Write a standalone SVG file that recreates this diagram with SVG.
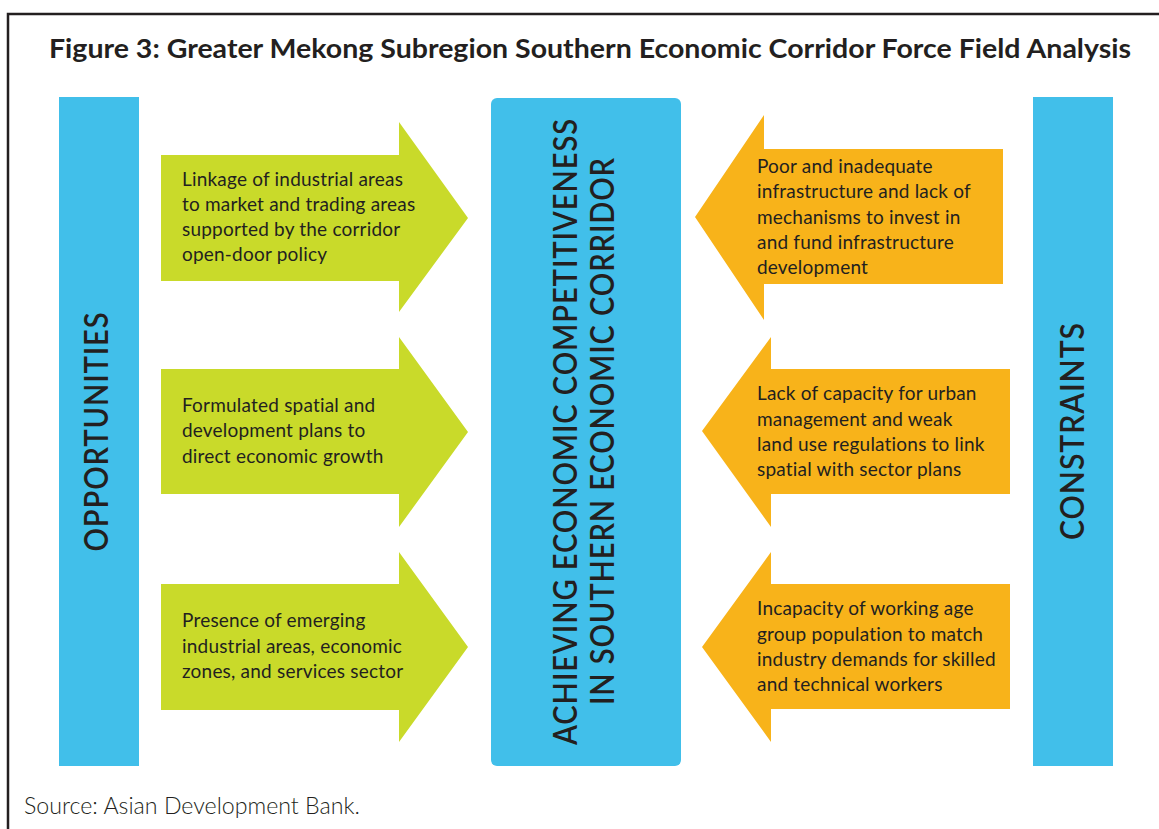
<svg xmlns="http://www.w3.org/2000/svg" width="1159" height="829" viewBox="0 0 1159 829">
<style>
.bar{fill:#41BFEA}
.opp{fill:#C9DA2A}
.con{fill:#F8B31A}
.t{font-family:Lato,"Open Sans",sans-serif;font-size:19px;letter-spacing:0.2px;fill:#231F20}
.title{font-family:Lato,"Open Sans",sans-serif;font-size:26px;font-weight:bold;fill:#231F20}
.src{font-family:Lato,"Open Sans",sans-serif;font-size:23px;font-weight:300;fill:#231F20}
.v{font-family:Lato,"Open Sans",sans-serif;font-size:32px;font-weight:600;fill:#231F20;text-anchor:middle;letter-spacing:1px}
</style>
<rect width="1159" height="829" fill="#fff"/>
<path d="M8 829 V14 H1159" fill="none" stroke="#231F20" stroke-width="2.5"/>
<text class="title" x="49" y="58" textLength="1082" lengthAdjust="spacingAndGlyphs">Figure 3: Greater Mekong Subregion Southern Economic Corridor Force Field Analysis</text>
<g id="opportunities">
<rect class="bar" x="59" y="97" width="80" height="669"/>
<text class="v" transform="translate(108,431.5) rotate(-90)" textLength="240" lengthAdjust="spacingAndGlyphs">OPPORTUNITIES</text>
</g>
<g id="constraints">
<rect class="bar" x="1033" y="97" width="80" height="669"/>
<text class="v" transform="translate(1084,431) rotate(-90)" textLength="218" lengthAdjust="spacingAndGlyphs">CONSTRAINTS</text>
</g>
<g id="goal">
<rect class="bar" x="491" y="98" width="190" height="668" rx="6"/>
<text class="v" transform="translate(577,431.5) rotate(-90)" textLength="627" lengthAdjust="spacingAndGlyphs">ACHIEVING ECONOMIC COMPETITIVENESS</text>
<text class="v" transform="translate(614,431) rotate(-90)" textLength="548" lengthAdjust="spacingAndGlyphs">IN SOUTHERN ECONOMIC CORRIDOR</text>
</g>
<g id="opp1">
<polygon class="opp" points="161,155 399,155 399,122 468,218 399,312 399,281 161,281"/>
<text class="t" x="182" y="186">Linkage of industrial areas</text>
<text class="t" x="182" y="211">to market and trading areas</text>
<text class="t" x="182" y="236">supported by the corridor</text>
<text class="t" x="182" y="261">open-door policy</text>
</g>
<g id="opp2">
<polygon class="opp" points="161,369 399,369 399,337 468,432 399,527 399,494 161,494"/>
<text class="t" x="182" y="412">Formulated spatial and</text>
<text class="t" x="182" y="437">development plans to</text>
<text class="t" x="182" y="463">direct economic growth</text>
</g>
<g id="opp3">
<polygon class="opp" points="161,584 399,584 399,552 468,647 399,742 399,710 161,710"/>
<text class="t" x="182" y="627">Presence of emerging</text>
<text class="t" x="182" y="653">industrial areas, economic</text>
<text class="t" x="182" y="678">zones, and services sector</text>
</g>
<g id="con1">
<polygon class="con" points="1003,149 764,149 764,115 695,217 764,320 764,284 1003,284"/>
<text class="t" x="757" y="173">Poor and inadequate</text>
<text class="t" x="757" y="198">infrastructure and lack of</text>
<text class="t" x="757" y="224">mechanisms to invest in</text>
<text class="t" x="757" y="249">and fund infrastructure</text>
<text class="t" x="757" y="274">development</text>
</g>
<g id="con2">
<polygon class="con" points="1010,369 771,369 771,337 702,431 771,527 771,494 1010,494"/>
<text class="t" x="757" y="400">Lack of capacity for urban</text>
<text class="t" x="757" y="426">management and weak</text>
<text class="t" x="757" y="451">land use regulations to link</text>
<text class="t" x="757" y="476">spatial with sector plans</text>
</g>
<g id="con3">
<polygon class="con" points="1010,584 771,584 771,552 702,647 771,742 771,709 1010,709"/>
<text class="t" x="757" y="615">Incapacity of working age</text>
<text class="t" x="757" y="641">group population to match</text>
<text class="t" x="757" y="666">industry demands for skilled</text>
<text class="t" x="757" y="691">and technical workers</text>
</g>
<g id="connectors"/>
<text class="src" x="24" y="814" textLength="336" lengthAdjust="spacingAndGlyphs">Source: Asian Development Bank.</text>
</svg>
